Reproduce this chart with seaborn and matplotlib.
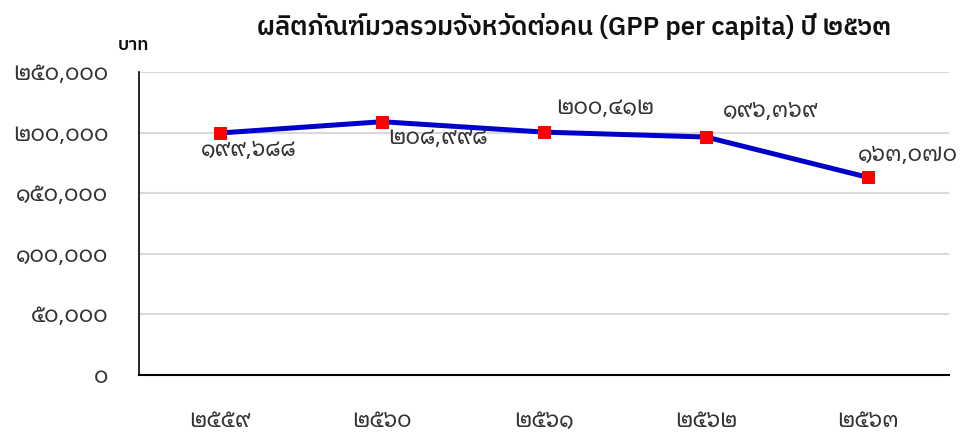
import matplotlib
matplotlib.use("Agg")
import matplotlib.pyplot as plt
import seaborn as sns
import pandas as pd
from matplotlib.ticker import FuncFormatter

sns.set_theme(style="white")
plt.rcParams['font.family'] = ['Noto Sans Thai', 'Loma', 'DejaVu Sans']
NUM_FONT = ['Noto Sans Thai Looped', 'Noto Sans Thai', 'Loma', 'DejaVu Sans']
TITLE_FONT = ['IBM Plex Sans Thai', 'Noto Sans Thai', 'DejaVu Sans']

# Data
years = [2559, 2560, 2561, 2562, 2563]
gpp = [199688, 208998, 200412, 196369, 163070]

THAI_DIGITS = str.maketrans("0123456789", "๐๑๒๓๔๕๖๗๘๙")


def thai(s):
    return str(s).translate(THAI_DIGITS)


df = pd.DataFrame({"year": [thai(y) for y in years], "gpp": gpp})

fig = plt.figure(figsize=(9.63, 4.32), dpi=100)
ax = fig.add_axes([0.1443, 0.1319, 0.8412, 0.7014])

sns.lineplot(data=df, x="year", y="gpp", ax=ax, color="#0000cc", linewidth=3.6,
             marker="s", markersize=9, markerfacecolor="#ff0000",
             markeredgecolor="#ff0000", sort=False)

ax.set_xlim(-0.5, 4.5)
ax.set_ylim(0, 250000)
ax.set_yticks(range(0, 250001, 50000))
ax.yaxis.set_major_formatter(FuncFormatter(lambda v, p: thai(f"{int(v):,}")))
ax.grid(axis="y", color="#d9d9d9", linewidth=1.5)
ax.set_axisbelow(True)
for s in ["top", "right"]:
    ax.spines[s].set_visible(False)
ax.spines["left"].set_color("black")
ax.spines["bottom"].set_color("black")
ax.spines["left"].set_linewidth(1.2)
ax.spines["bottom"].set_linewidth(1.5)
ax.tick_params(axis="both", length=0, labelsize=16, colors="#333333")
ax.tick_params(axis="x", pad=26)
ax.tick_params(axis="y", pad=22)
for lab in ax.get_xticklabels() + ax.get_yticklabels():
    lab.set_family(NUM_FONT)
ax.set_xlabel("")
ax.set_ylabel("")

# Data labels (offsets in pixels from the marker)
offsets = [(-19, -18), (6, -17), (12, 24), (17, 26), (-10, 22)]
for i, (v, (dx, dy)) in enumerate(zip(gpp, offsets)):
    ax.annotate(thai(f"{v:,}"), (i, v), xytext=(dx, dy), textcoords="offset pixels",
                ha="left", va="center", fontsize=16, color="#333333", family=NUM_FONT)

fig.text(0.596, 0.9375, "ผลิตภัณฑ์มวลรวมจังหวัดต่อคน (GPP per capita) ปี " + thai(2563),
         ha="center", va="center", fontsize=18.5, fontweight="semibold", color="#111111",
         family=TITLE_FONT)
fig.text(0.139, 0.896, "บาท", ha="center", va="center", fontsize=13,
         fontweight="semibold", color="#111111", family=TITLE_FONT)

fig.savefig("out.png", dpi=100)
